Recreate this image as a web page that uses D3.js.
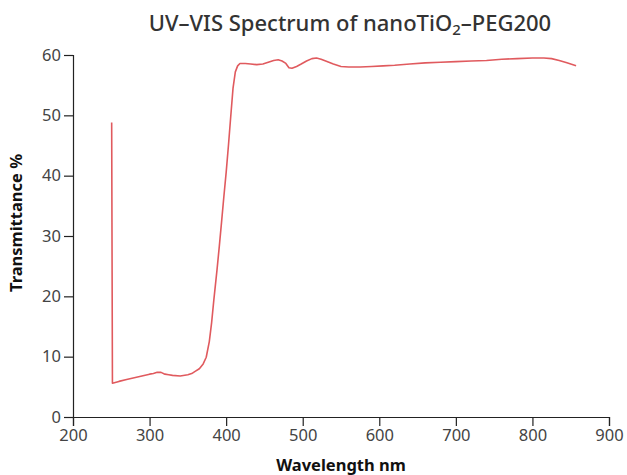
<!DOCTYPE html>
<html><head><meta charset="utf-8">
<script src="https://cdn.jsdelivr.net/npm/d3@7"></script>
<style>body{margin:0;background:#fff;} text{font-family:"Noto Sans","Open Sans",sans-serif;}</style>
</head><body>
<svg id="chart" width="627" height="475"></svg>
<script>
const wavelength = [250.5,251.5,260,270,280,290,300,305,310,315,320,325,330,340,350,355,360,365,370,374,378,381,384,388,391,394,397,400,403,406,409,412,415,418,425,432,440,448,455,462,468,473,478,482,486,492,498,505,512,518,524,530,540,550,560,575,590,605,620,640,660,680,700,720,740,760,780,800,815,825,835,845,857];
const transmittance = [48.8,5.6,5.9,6.2,6.5,6.8,7.1,7.2,7.4,7.4,7.1,7.0,6.9,6.8,7.0,7.2,7.6,8.0,8.8,9.9,12.5,15.6,19.5,24.3,28.2,32.3,36.5,40.5,45.0,49.8,54.5,57.2,58.2,58.6,58.6,58.5,58.4,58.5,58.8,59.1,59.2,59.0,58.6,57.9,57.8,58.1,58.5,59.0,59.4,59.5,59.3,59.0,58.5,58.1,58.0,58.0,58.1,58.2,58.3,58.5,58.7,58.8,58.9,59.0,59.1,59.3,59.4,59.5,59.5,59.4,59.1,58.7,58.2];
const xTicks = [200,300,400,500,600,700,800,900];
const yTicks = [0,10,20,30,40,50,60];

const svg = d3.select("#chart");
const x = d3.scaleLinear().domain([200,900]).range([73,609]);
const y = d3.scaleLinear().domain([0,60]).range([417,55]);
const data = wavelength.map((w,i)=>({w, t: transmittance[i]}));

const xMinor = d3.range(200,901,20).filter(v=>v%100!==0);
const yMinor = d3.range(0,61,2).filter(v=>v%10!==0);

const gx = svg.append("g").attr("transform","translate(0,417)");
gx.call(d3.axisBottom(x).tickValues(xMinor).tickSize(5).tickFormat(""));
gx.call(d3.axisBottom(x).tickValues(xTicks).tickSize(9).tickPadding(3).tickFormat(d3.format("d")));
const gy = svg.append("g").attr("transform","translate(73,0)");
gy.call(d3.axisLeft(y).tickValues(yMinor).tickSize(5).tickFormat(""));
gy.call(d3.axisLeft(y).tickValues(yTicks).tickSize(9).tickPadding(3).tickFormat(d3.format("d")));
svg.selectAll(".domain").attr("stroke","#222").attr("stroke-width",1.2);
svg.selectAll(".tick line").attr("stroke","#222").attr("stroke-width",1.2);
svg.selectAll(".tick text").attr("font-size",16.5).attr("fill","#444").attr("font-family","'Noto Sans', 'Open Sans', sans-serif");

svg.append("path").datum(data)
  .attr("fill","none").attr("stroke","#e05a5e").attr("stroke-width",1.6)
  .attr("stroke-linejoin","round")
  .attr("d", d3.line().x(d=>x(d.w)).y(d=>y(d.t)));

const title = svg.append("text").attr("x",350).attr("y",31).attr("text-anchor","middle")
  .attr("font-size",22).attr("fill","#333").attr("font-weight","500");
title.append("tspan").text("UV–VIS Spectrum of nanoTiO");
title.append("tspan").attr("font-size",15).attr("dy",4).text("2");
title.append("tspan").attr("dy",-4).text("–PEG200");

svg.append("text").attr("x",341).attr("y",471).attr("text-anchor","middle")
  .attr("font-size",16.5).attr("font-weight","bold").attr("fill","#111").text("Wavelength nm");
svg.append("text").attr("transform","translate(22,223) rotate(-90)").attr("text-anchor","middle")
  .attr("font-size",16.5).attr("font-weight","bold").attr("fill","#111").text("Transmittance %");
</script>
</body></html>
